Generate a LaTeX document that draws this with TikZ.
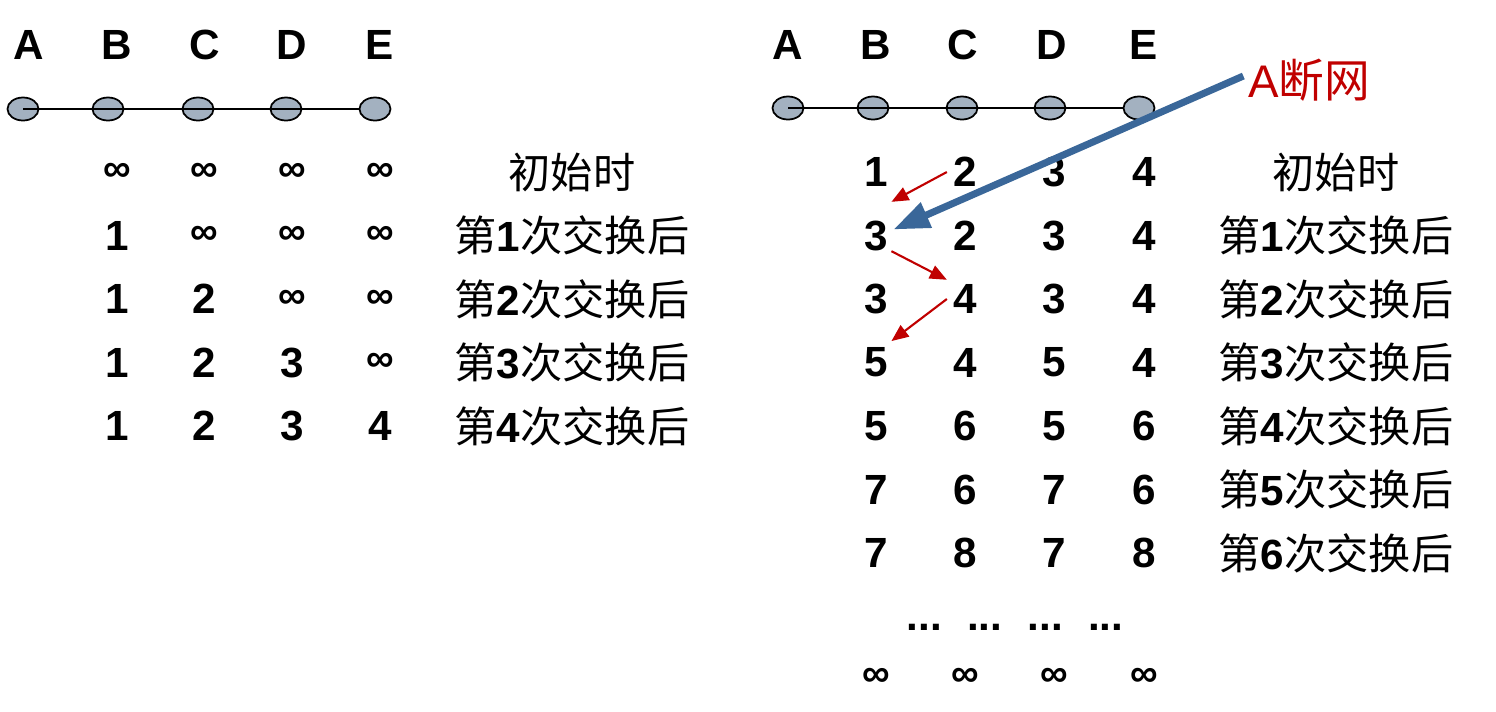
\documentclass[tikz,border=0pt]{standalone}
\usepackage{fontspec}
\setmainfont{Liberation Sans}
\newfontfamily\cjk{Noto Sans CJK SC}
\usetikzlibrary{arrows.meta,shapes.geometric}

\definecolor{hostgray}{RGB}{163,177,192}
\definecolor{linkblue}{RGB}{58,103,153}
\definecolor{warnred}{RGB}{192,0,0}

\def\oo{{\fontsize{11}{12}\selectfont ∞}}
\newcommand\roundlbl[1]{{\cjk 第}\textbf{#1}{\cjk 次交换后}}

\begin{document}
\begin{tikzpicture}[x=0.01cm, y=-0.01cm,
    hdr/.style={font=\fontsize{12}{14}\selectfont\bfseries, inner sep=0pt},
    num/.style={font=\fontsize{12}{14}\selectfont\bfseries, inner sep=0pt},
    host/.style={ellipse, draw, line width=0.5pt, fill=hostgray, minimum width=0.31cm, minimum height=0.23cm, inner sep=0pt},
    stage/.style={font=\fontsize{12}{14}\selectfont, inner sep=0pt},
    hop/.style={-{Triangle[length=0.17cm, width=0.14cm]}, warnred, line width=0.6pt}]
    \useasboundingbox (0,0) rectangle (1496,711);

    % Left chain
    \foreach \n/\hx/\ex in {A/29/23, B/117/108, C/205/198, D/292/286, E/380/375} {
        \node[hdr] (lt\n) at (\hx,45) {\n};
        \node[host] (lh\n) at (\ex,109) {};
    }
    \draw[line width=0.5pt] (lhA.center) -- (lhE.west);

    % Left table
    \foreach \vals [count=\r from 0] in {{\oo,\oo,\oo,\oo},{1,\oo,\oo,\oo},{1,2,\oo,\oo},{1,2,3,\oo},{1,2,3,4}} {
        \foreach \v [count=\c] in \vals {
            \node[num] (l\r c\c) at ({117+(\c-1)*87.7},{172+\r*63.5}) {\v};
        }
    }
    \node[stage] (ls0) at (572,172) {\cjk 初始时};
    \foreach \k in {1,...,4}
        \node[stage] (ls\k) at (572,{172+\k*63.5}) {\roundlbl{\k}};

    % Right chain
    \foreach \n/\hx/\ex in {A/788/788, B/876/873, C/963/962, D/1052/1050, E/1144/1139} {
        \node[hdr] (rt\n) at (\hx,45) {\n};
        \node[host] (rh\n) at (\ex,108) {};
    }
    \draw[line width=0.5pt] (rhA.center) -- (rhE.west);

    % Right table
    \foreach \vals [count=\r from 0] in {{1,2,3,4},{3,2,3,4},{3,4,3,4},{5,4,5,4},{5,6,5,6},{7,6,7,6},{7,8,7,8}} {
        \foreach \v [count=\c] in \vals {
            \node[num] (r\r c\c) at ({876+(\c-1)*89.3},{172+\r*63.5}) {\v};
        }
    }
    \node[stage] (rs0) at (1336,172) {\cjk 初始时};
    \foreach \k in {1,...,6}
        \node[stage] (rs\k) at (1336,{172+\k*63.5}) {\roundlbl{\k}};
    \node[num] (gap) at (1015,627) {...\hspace{0.6em}...\hspace{0.6em}...\hspace{0.6em}...};
    \foreach \c in {1,...,4}
        \node[num] (rinf\c) at ({876+(\c-1)*89.3},677) {\oo};

    % Link failure
    \node[stage, text=warnred, font=\fontsize{13}{15}\selectfont] (cut) at (1309,80) {A{\cjk 断网}};
    \draw[-{Triangle[length=0.36cm, width=0.26cm]}, linkblue, line width=2pt]
        ([shift={(-0.04cm,0.04cm)}]cut.west) -- ([shift={(0.05cm,0.06cm)}]r1c1.east);

    % Count to infinity
    \draw[hop] ([xshift=-0.06cm]r0c2.west) -- ([shift={(0.03cm,0.18cm)}]r1c1.north east);
    \draw[hop] ([xshift=0.03cm]r1c1.south east) -- ([shift={(-0.06cm,0.04cm)}]r2c2.north west);
    \draw[hop] ([xshift=-0.06cm]r2c2.west) -- ([shift={(0.03cm,0.06cm)}]r3c1.north east);
\end{tikzpicture}
\end{document}
